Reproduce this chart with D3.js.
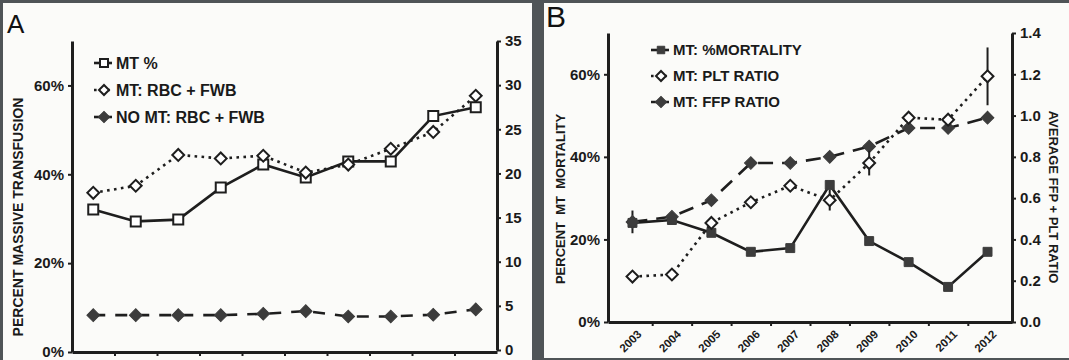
<!DOCTYPE html>
<html>
<head>
<meta charset="utf-8">
<script src="https://cdn.jsdelivr.net/npm/d3@7"></script>
<style>
  body { margin: 0; background: #4f5457; }
  svg { display: block; font-family: "Liberation Sans", Arial, sans-serif; }
  .tick text { font-weight: bold; fill: #1a1a1a; }
</style>
</head>
<body>
<svg></svg>
<script>
// years (shared by both panels)
var years = ["2003", "2004", "2005", "2006", "2007", "2008", "2009", "2010", "2011", "2012"];

// panel A
var mtPct = [32.1, 29.4, 29.8, 37.0, 42.2, 39.3, 42.9, 42.9, 53.1, 55.1];       // left axis, %
var mtRbcFwb = [17.8, 18.6, 22.1, 21.7, 22.0, 20.1, 21.0, 22.8, 24.7, 28.8];    // right axis
var noMtRbcFwb = [3.95, 3.95, 3.95, 3.95, 4.1, 4.4, 3.8, 3.8, 4.0, 4.6];        // right axis
var ticksA_left = [0, 20, 40, 60];
var ticksA_right = [0, 5, 10, 15, 20, 25, 30, 35];

// panel B
var mortality = [24.0, 24.7, 21.6, 17.0, 17.9, 33.2, 19.6, 14.5, 8.5, 17.0];   // left axis, %
var pltRatio = [0.22, 0.23, 0.48, 0.58, 0.66, 0.59, 0.77, 0.99, 0.98, 1.19];    // right axis
var pltErr = [0, 0, 0, 0, 0, 0.05, 0.06, 0, 0, 0.14];
var ffpRatio = [0.485, 0.51, 0.59, 0.77, 0.77, 0.80, 0.85, 0.94, 0.94, 0.99];  // right axis
var ffpErr = [0.055, 0.02, 0, 0, 0, 0, 0, 0, 0, 0.02];
var ticksB_left = [0, 20, 40, 60];
var ticksB_right = [0, 0.2, 0.4, 0.6, 0.8, 1.0, 1.2, 1.4];

var width = 1069, height = 360;
var ink = "#1e1e1e", fillDark = "#3c3c3c";

var svg = d3.select("svg").attr("width", width).attr("height", height);

// panel backgrounds
svg.append("rect").attr("x", 0).attr("y", 0).attr("width", width).attr("height", height).attr("fill", "#4f5457");
svg.append("rect").attr("x", 3).attr("y", 3).attr("width", 529).attr("height", 357).attr("fill", "#fbfbf9");
svg.append("rect").attr("x", 544).attr("y", 3).attr("width", 525).attr("height", 355).attr("fill", "#fbfbf9");

function symbolPath(type, size) {
  return d3.symbol().type(type).size(size)();
}

function drawSeries(g, x, y, values, opt) {
  var pts = values.map(function(v, i) { return [x(years[i]) + x.bandwidth() / 2, y(v)]; });
  g.append("path")
    .attr("d", d3.line()(pts))
    .attr("fill", "none")
    .attr("stroke", ink)
    .attr("stroke-width", opt.lineWidth || 2.6)
    .attr("stroke-dasharray", opt.dash || null);
  if (opt.err) {
    var withErr = values.map(function(v, i) { return { v: v, e: opt.err[i], x: pts[i][0] }; })
                        .filter(function(d) { return d.e > 0; });
    g.selectAll(null)
      .data(withErr)
      .enter()
      .append("line")
        .attr("x1", d => d.x)
        .attr("x2", d => d.x)
        .attr("y1", d => y(d.v + d.e))
        .attr("y2", d => y(d.v - d.e))
        .attr("stroke", ink)
        .attr("stroke-width", 2);
  }
  g.selectAll(null)
    .data(pts)
    .enter()
    .append("path")
      .attr("transform", function(d) {
        return "translate(" + d[0] + "," + d[1] + ")" + (opt.diamond ? " rotate(45)" : "");
      })
      .attr("d", symbolPath(d3.symbolSquare, opt.size))
      .attr("fill", opt.open ? "#fff" : fillDark)
      .attr("stroke", opt.open ? ink : fillDark)
      .attr("stroke-width", opt.open ? 2 : 1);
}

function legend(g, items, x0, y0, step, fontSize) {
  items.forEach(function(it, i) {
    var yy = y0 + i * step;
    g.append("line")
      .attr("x1", x0).attr("x2", x0 + 18).attr("y1", yy).attr("y2", yy)
      .attr("stroke", ink).attr("stroke-width", 2.6)
      .attr("stroke-dasharray", it.dash || null);
    g.append("path")
      .attr("transform", "translate(" + (x0 + 10) + "," + yy + ")" + (it.diamond ? " rotate(45)" : ""))
      .attr("d", symbolPath(d3.symbolSquare, it.size))
      .attr("fill", it.open ? "#fff" : fillDark)
      .attr("stroke", it.open ? ink : fillDark)
      .attr("stroke-width", it.open ? 2 : 1);
    g.append("text")
      .attr("x", x0 + 22).attr("y", yy)
      .attr("dy", "0.36em")
      .style("font-size", fontSize + "px")
      .style("font-weight", "bold")
      .attr("fill", "#1a1a1a")
      .text(it.label);
  });
}

function styleAxis(sel) {
  sel.select(".domain").attr("stroke", ink).attr("stroke-width", 3);
  sel.selectAll(".tick line").attr("stroke", ink).attr("stroke-width", 2);
}

function drawPanel(p) {
  var g = svg.append("g");
  var x = d3.scaleBand().domain(years).range([p.x0, p.x1]).paddingOuter(p.padOuter || 0);
  var yL = d3.scaleLinear().domain([0, 70]).range([p.yBottom, p.yTop]);
  var yR = d3.scaleLinear().domain(p.rightDomain).range([p.yBottomR || p.yBottom, p.yTop]);
  var xIdx = d3.scaleLinear().domain([0, years.length]).range([x(years[0]), x(years[years.length - 1]) + x.bandwidth()]);

  // x axis: tick marks between years
  g.append("g")
    .attr("transform", "translate(0," + p.yBottom + ")")
    .call(d3.axisBottom(d3.scaleLinear().domain([0, 1]).range([p.x0, p.x1])).tickValues([]).tickSizeOuter(0))
    .call(styleAxis);
  g.append("g")
    .attr("transform", "translate(0," + p.yBottom + ")")
    .call(d3.axisBottom(xIdx).tickValues(d3.range(1, years.length)).tickFormat("").tickSize(4).tickSizeOuter(0))
    .call(styleAxis)
    .select(".domain").remove();

  if (p.yearLabels) {
    var xa = g.append("g")
      .attr("transform", "translate(0," + p.yBottom + ")")
      .call(d3.axisBottom(x).tickSize(0).tickSizeOuter(0));
    xa.select(".domain").remove();
    xa.selectAll(".tick text")
      .attr("x", 0).attr("y", 0).attr("dy", "0.35em")
      .attr("text-anchor", "end")
      .attr("transform", "translate(7,10) rotate(-45)")
      .style("font-size", "11.5px");
  }

  // left axis
  g.append("g")
    .attr("transform", "translate(" + p.x0 + ",0)")
    .call(d3.axisLeft(yL).tickValues(p.leftTicks).tickFormat(function(d) { return d + "%"; }).tickSize(4).tickSizeOuter(0).tickPadding(4))
    .call(styleAxis)
    .selectAll("text").style("font-size", "15px");

  // right axis
  g.append("g")
    .attr("transform", "translate(" + p.x1 + ",0)")
    .call(d3.axisRight(yR).tickValues(p.rightTicks).tickFormat(p.rightFormat).tickSize(4).tickSizeOuter(0).tickPadding(4))
    .call(styleAxis)
    .selectAll("text").style("font-size", "15px");

  // panel letter
  g.append("text")
    .attr("x", p.letterX).attr("y", p.letterY)
    .style("font-size", p.letterSize + "px")
    .attr("fill", "#111")
    .text(p.letter);

  // axis titles
  g.append("text")
    .attr("transform", "translate(" + p.leftTitleX + "," + p.leftTitleY + ") rotate(-90)")
    .attr("text-anchor", "middle")
    .attr("dy", "0.36em")
    .style("font-size", p.titleSize + "px")
    .style("font-weight", "bold")
    .style("white-space", "pre")
    .attr("fill", "#1a1a1a")
    .text(p.leftTitle);
  if (p.rightTitle) {
    g.append("text")
      .attr("transform", "translate(" + p.rightTitleX + "," + p.rightTitleY + ") rotate(90)")
      .attr("text-anchor", "middle")
      .attr("dy", "0.36em")
      .style("font-size", p.titleSize + "px")
      .style("font-weight", "bold")
      .attr("fill", "#1a1a1a")
      .text(p.rightTitle);
  }

  p.series.forEach(function(s) {
    drawSeries(g, x, s.axis === "left" ? yL : yR, s.values, s);
  });

  legend(g, p.legend, p.legendX, p.legendY, p.legendStep, p.legendFont);
}

drawPanel({
  x0: 72, x1: 497, yBottom: 352, yBottomR: 350, yTop: 41,
  rightDomain: [0, 35],
  leftTicks: ticksA_left, rightTicks: ticksA_right,
  rightFormat: d3.format("d"),
  yearLabels: false,
  letter: "A", letterX: 7, letterY: 33, letterSize: 26,
  leftTitle: "PERCENT MASSIVE TRANSFUSION", leftTitleX: 18, leftTitleY: 217, titleSize: 14,
  series: [
    { values: noMtRbcFwb, axis: "right", dash: "12,10", size: 80, diamond: true, open: false },
    { values: mtPct, axis: "left", size: 100, open: true },
    { values: mtRbcFwb, axis: "right", dash: "2.6,4.4", size: 70, diamond: true, open: true }
  ],
  legend: [
    { label: "MT %", size: 64, open: true },
    { label: "MT: RBC + FWB", dash: "2.6,4", size: 50, diamond: true, open: true },
    { label: "NO MT: RBC + FWB", size: 64, diamond: true, open: false }
  ],
  legendX: 94, legendY: 63, legendStep: 27, legendFont: 16
});

drawPanel({
  x0: 608, x1: 1012, yBottom: 322, yTop: 33, padOuter: 0.12,
  rightDomain: [0, 1.4],
  leftTicks: ticksB_left, rightTicks: ticksB_right,
  rightFormat: d3.format(".1f"),
  yearLabels: true,
  letter: "B", letterX: 546, letterY: 27, letterSize: 30,
  leftTitle: "PERCENT  MT  MORTALITY", leftTitleX: 560, leftTitleY: 199, titleSize: 13,
  rightTitle: "AVERAGE FFP + PLT RATIO", rightTitleX: 1054, rightTitleY: 197,
  series: [
    { values: mortality, axis: "left", size: 80, open: false },
    { values: ffpRatio, axis: "right", dash: "15,9", size: 80, diamond: true, open: false, err: ffpErr },
    { values: pltRatio, axis: "right", dash: "2.6,4.4", size: 70, diamond: true, open: true, err: pltErr }
  ],
  legend: [
    { label: "MT: %MORTALITY", size: 56, open: false },
    { label: "MT: PLT RATIO", dash: "2.6,4", size: 50, diamond: true, open: true },
    { label: "MT: FFP RATIO", dash: "8,3", size: 64, diamond: true, open: false }
  ],
  legendX: 651, legendY: 50, legendStep: 26, legendFont: 15
});
</script>
</body>
</html>
